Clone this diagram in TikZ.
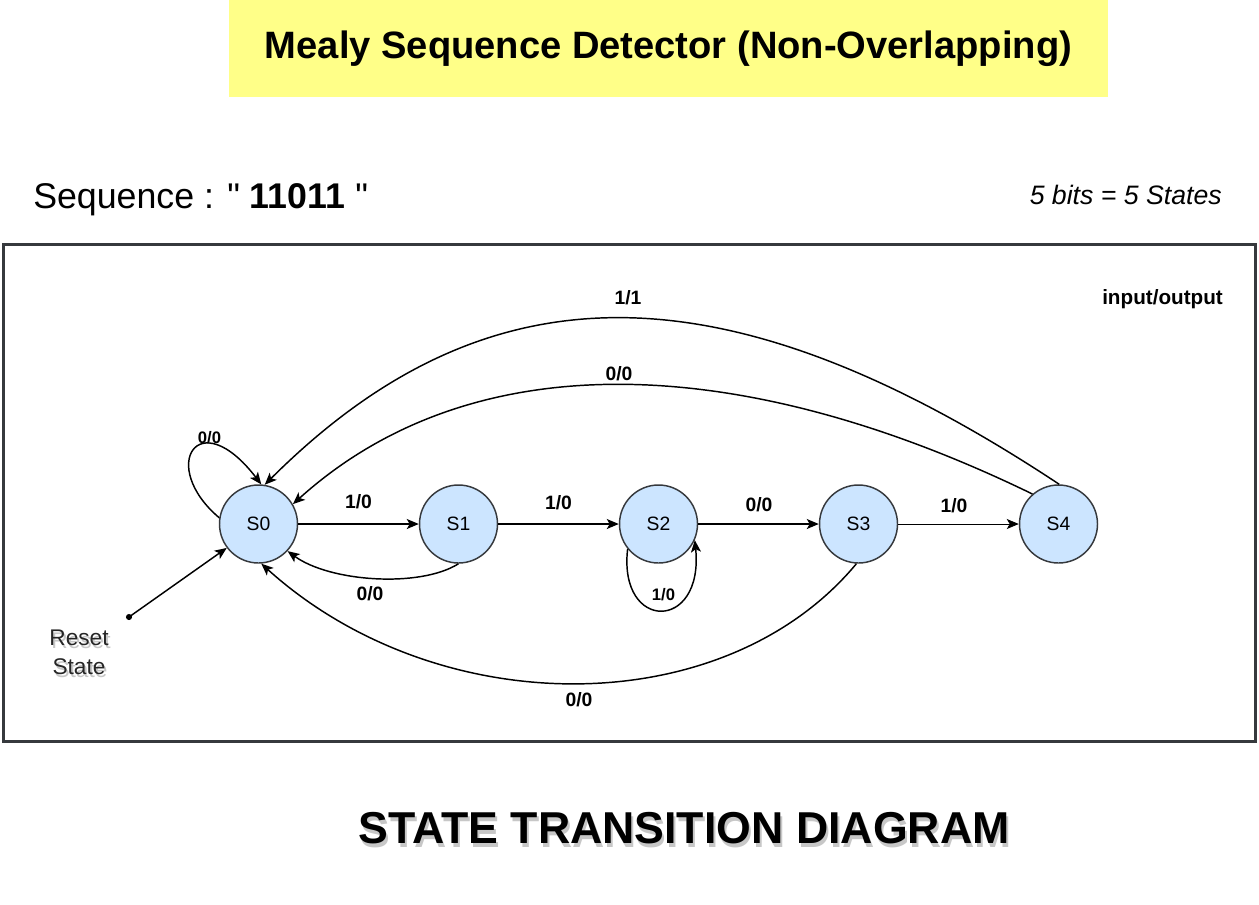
\documentclass[tikz,border=0pt]{standalone}
\usepackage{fontspec}
\setmainfont{Liberation Sans}[Ligatures=TeXOff]
\usetikzlibrary{arrows.meta}
\definecolor{ttl}{HTML}{FFFF88}
\definecolor{stfill}{HTML}{CCE5FF}
\definecolor{stline}{HTML}{36393D}
\tikzset{
  state/.style={circle, draw=stline, fill=stfill, line width=1.1pt, minimum size=58.5pt, inner sep=0pt, font=\fontsize{14.5}{16}\selectfont},
  tr/.style={line width=1.1pt, -{Stealth[length=9pt,width=7.5pt,inset=2.2pt]}},
  thintr/.style={line width=0.6pt, -{Stealth[length=9pt,width=7.5pt,inset=2.2pt]}},
  lbl/.style={font=\bfseries\fontsize{14.5}{16}\selectfont, inner sep=0pt},
  slbl/.style={font=\bfseries\fontsize{12.5}{14}\selectfont, inner sep=0pt},
  shd/.style={text=black, opacity=0.22, inner sep=0pt},
}
\begin{document}
\begin{tikzpicture}[x=0.75pt,y=-0.75pt]
\useasboundingbox (0,0) rectangle (1259,904);
% title box
\node[fill=ttl, minimum width=659.25pt, minimum height=72.75pt, inner sep=0pt,
      font=\bfseries\fontsize{28.6}{32}\selectfont] (title) at (668.5,48.5) {Mealy Sequence Detector (Non-Overlapping)};
% header texts
\node[anchor=west, inner sep=0pt, font=\fontsize{26.8}{30}\selectfont] (seq) at (33,200) {Sequence : " \textbf{11011} "};
\node[anchor=east, inner sep=0pt, font=\itshape\fontsize{20}{24}\selectfont] (bits) at (1222,195) {5 bits = 5 States};
% frame
\node[draw=stline, line width=2.25pt, minimum width=939.4pt, minimum height=372.4pt, inner sep=0pt] (frame) at (629.5,492.75) {};
\node[anchor=east, inner sep=0pt, font=\bfseries\fontsize{15.5}{18}\selectfont] (io) at (1223,299) {input/output};
% states
\node[state] (S0) at (258.5,524) {S0};
\node[state] (S1) at (458.5,524) {S1};
\node[state] (S2) at (658.5,524) {S2};
\node[state] (S3) at (858.5,524) {S3};
\node[state] (S4) at (1058.5,524) {S4};
% forward transitions
\draw[tr] (S0) -- (S1);
\draw[tr] (S1) -- (S2);
\draw[tr] (S2) -- (S3);
\draw[thintr] (S3) -- (S4);
\node[lbl] (l01) at (358.5,501.5) {1/0};
\node[lbl] (l12) at (558.5,503) {1/0};
\node[lbl] (l23) at (759,504.5) {0/0};
\node[lbl] (l34) at (954,505.5) {1/0};
% back transitions
\draw[tr] (S1.270) .. controls (420,588) and (330,582) .. (S0.317);
\node[lbl] (l10) at (370,593.5) {0/0};
\draw[tr] (S3.267) .. controls (724,723) and (438,723) .. (S0.274);
\node[lbl] (l30) at (579,699.5) {0/0};
\draw[tr] (S4.131) .. controls (730,347) and (467,347) .. (S0.30);
\node[lbl] (l40a) at (619,374) {0/0};
\draw[tr] (S4.89) .. controls (725,263) and (487,263) .. (S0.81);
\node[lbl] (l40b) at (628,298) {1/1};
% self loops
\draw[tr] (S0.171) .. controls (158,466) and (198,402) .. (S0.86);
\node[slbl] (l00) at (209.5,438) {0/0};
\draw[tr] (S2.219) .. controls (618,632) and (704,632) .. (S2.336);
\node[slbl] (l22) at (663.5,595) {1/0};
% reset
\coordinate (R) at (129,617);
\fill (R) circle (2.3pt);
\draw[tr] (R) -- (S0.217);
\node[shd, align=center, font=\fontsize{17}{21.75}\selectfont] (resetshadow) at (81,655) {Reset\\State};
\node[inner sep=0pt, align=center, font=\fontsize{17}{21.75}\selectfont, text=black!85] (reset) at (79,652) {Reset\\State};
% bottom title
\node[shd, font=\bfseries\fontsize{33.5}{38}\selectfont] (stdshadow) at (686,832) {STATE TRANSITION DIAGRAM};
\node[inner sep=0pt, font=\bfseries\fontsize{33.5}{38}\selectfont] (std) at (684,828) {STATE TRANSITION DIAGRAM};
\end{tikzpicture}
\end{document}
